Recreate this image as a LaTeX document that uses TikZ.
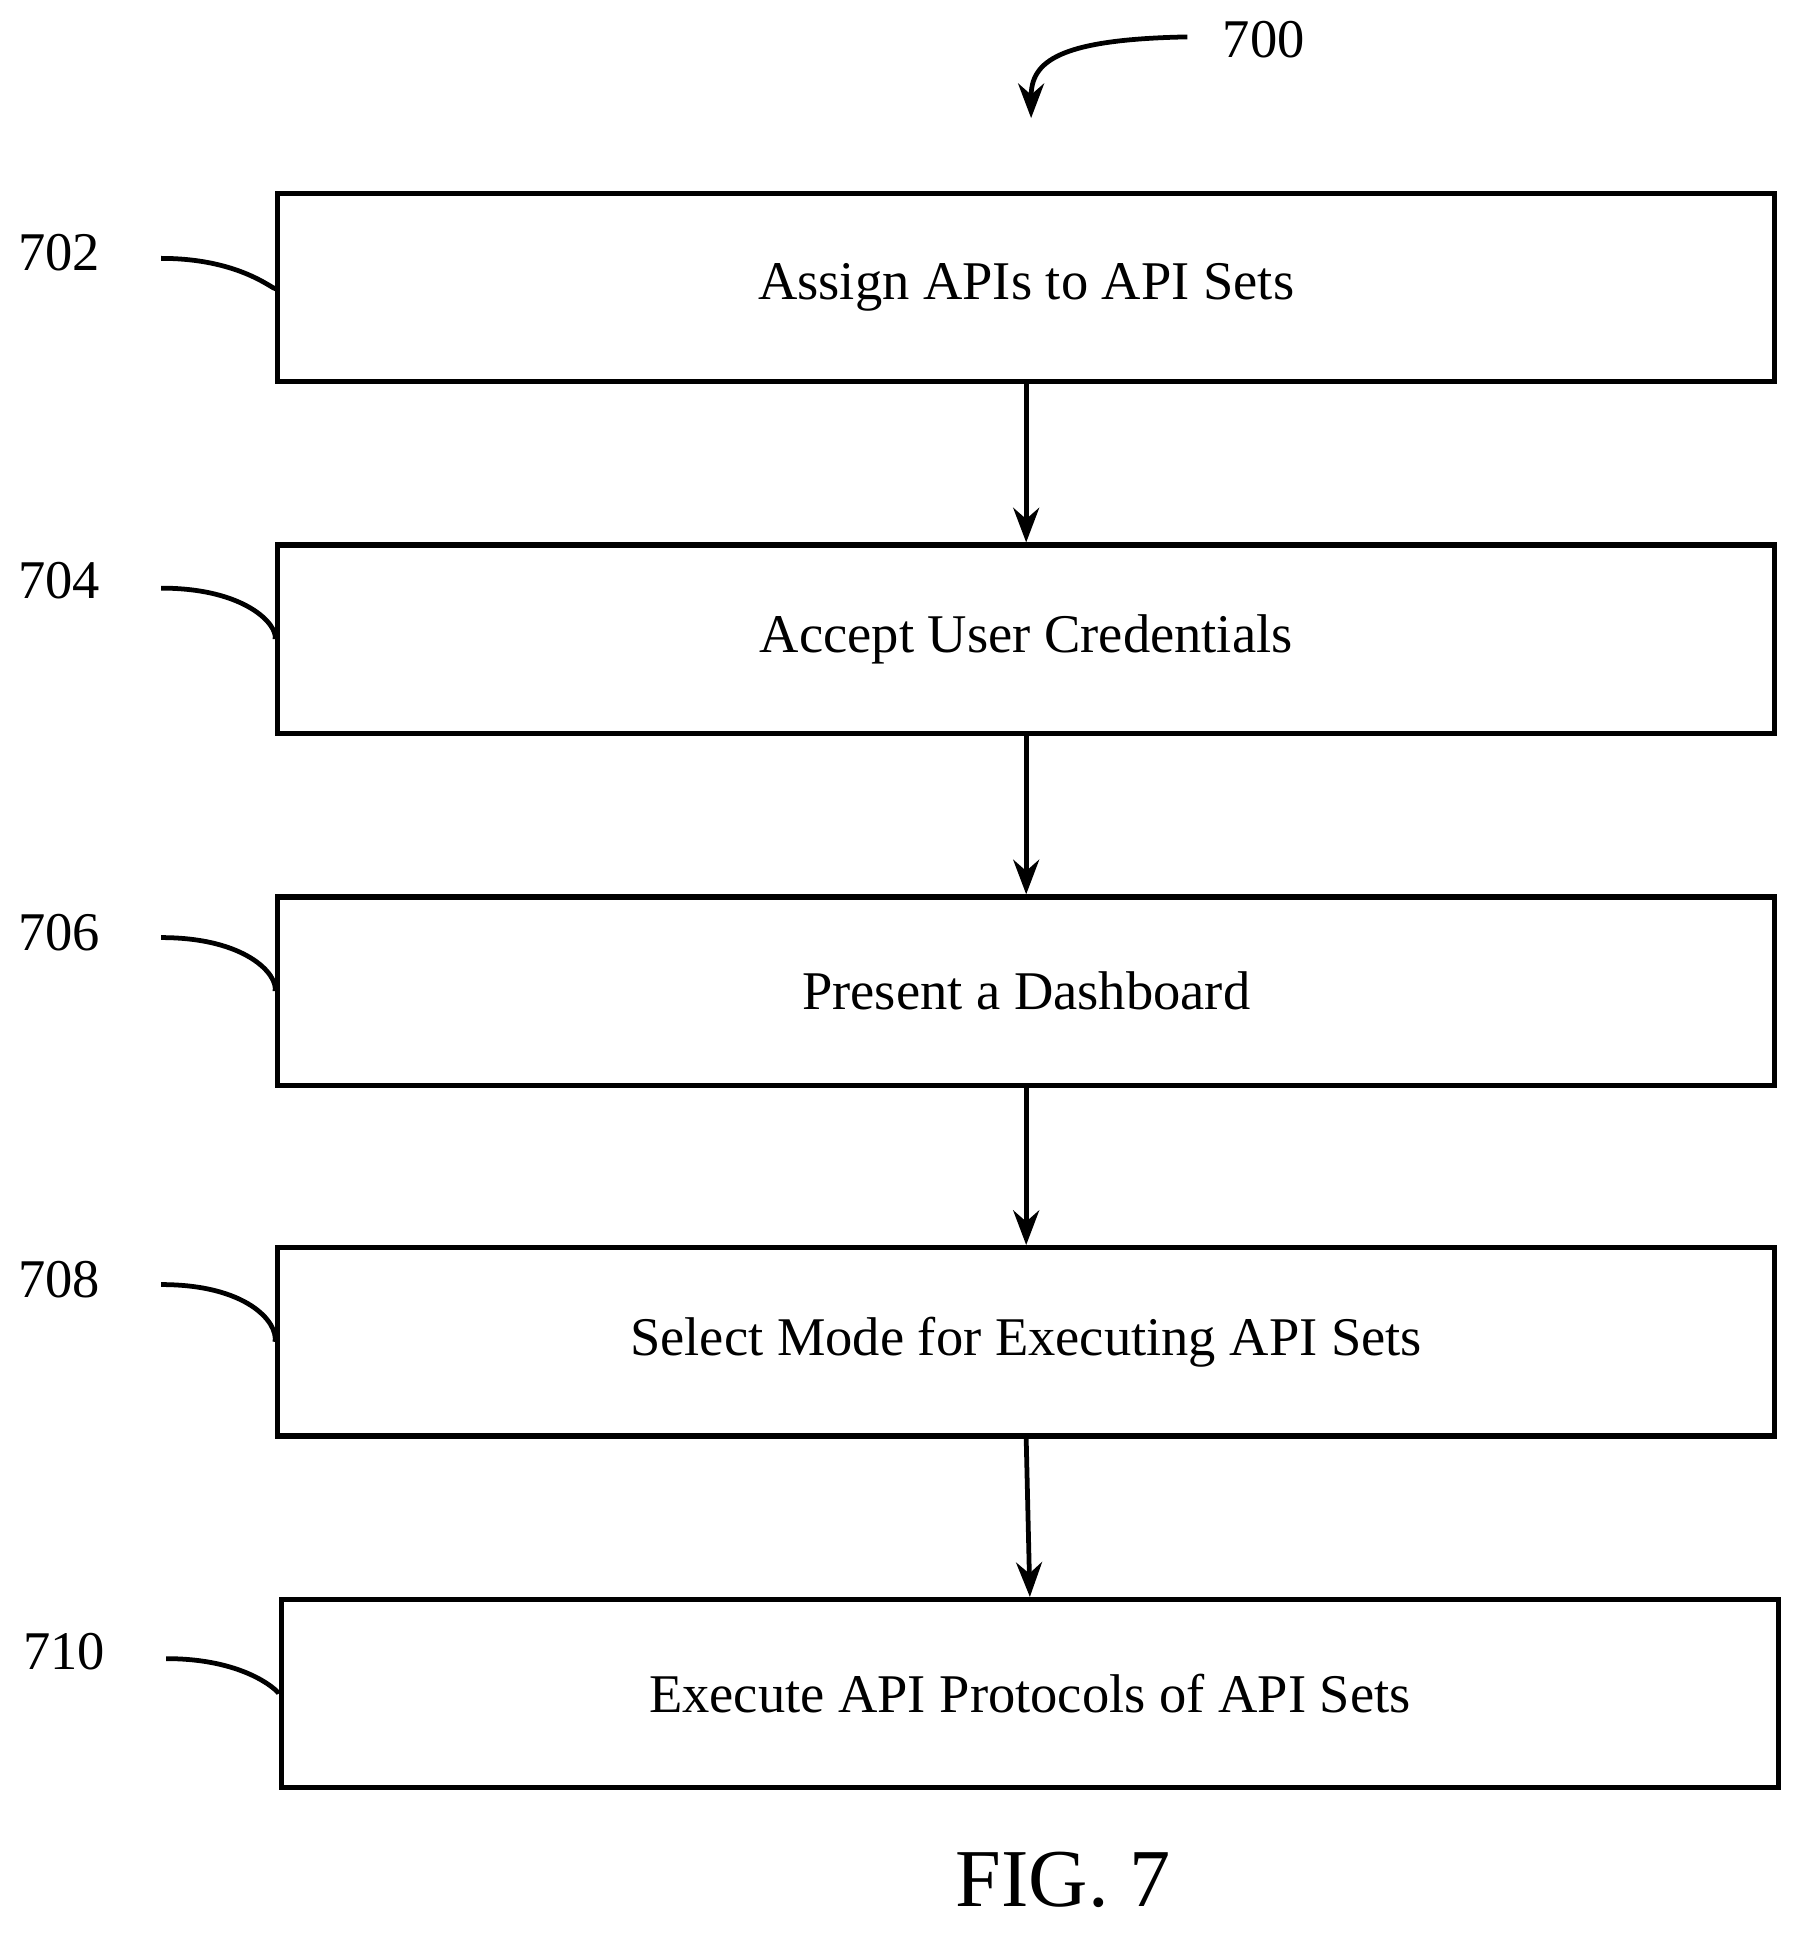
\documentclass[tikz,border=0pt]{standalone}
\usepackage{fontspec}
\setmainfont{Liberation Serif}
\usetikzlibrary{arrows.meta}
\begin{document}
\begin{tikzpicture}[x=0.01cm,y=-0.01cm]
\tikzstyle{box}=[draw,line width=1.2pt,minimum width=12.16cm,minimum height=1.53cm,inner sep=0pt,font=\fontsize{12.6}{15}\selectfont];
\tikzstyle{num}=[font=\fontsize{12.6}{15}\selectfont];
\tikzstyle{lead}=[line width=1.1pt];
\tikzstyle{dir}=[line width=1.1pt,-{Stealth[length=8pt,width=6pt]}];
\useasboundingbox (0,0) rectangle (1466,1571);
\node [box] (s1) at (834,233.5) {Assign APIs to API Sets};
\node [box] (s2) at (834,519.5) {Accept User Credentials};
\node [box] (s3) at (834,805.5) {Present a Dashboard};
\node [box] (s4) at (834,1090.5) {Select Mode for Executing API Sets};
\node [box] (s5) at (837,1376.5) {Execute API Protocols of API Sets};
\draw [dir] (s1) -- (s2);
\draw [dir] (s2) -- (s3);
\draw [dir] (s3) -- (s4);
\draw [dir] (s4.south) -- (s5.north);
\node [num] (n702) at (48,205) {702};
\node [num] (n704) at (48,472) {704};
\node [num] (n706) at (48,758) {706};
\node [num] (n708) at (48,1040) {708};
\node [num] (n710) at (52,1342) {710};
\coordinate (c702) at (131,210);
\coordinate (c704) at (131,478);
\coordinate (c706) at (131,762);
\coordinate (c708) at (131,1044);
\coordinate (c710) at (135,1348);
\draw [lead] (c702) .. controls (200,210) and (226,240) .. (s1.west);
\draw [lead] (c704) .. controls (200,478) and (226,508) .. (s2.west);
\draw [lead] (c706) .. controls (200,762) and (226,792) .. (s3.west);
\draw [lead] (c708) .. controls (200,1044) and (226,1074) .. (s4.west);
\draw [lead] (c710) .. controls (204,1348) and (229,1378) .. (s5.west);
\node [num] (n700) at (1027,32) {700};
\coordinate (c700) at (965,30);
\coordinate (t700) at (838,96);
\draw [dir] (c700) .. controls (860,32) and (838,50) .. (t700);
\node [font=\fontsize{19}{22}\selectfont] (fig) at (864,1528) {FIG. 7};
\end{tikzpicture}
\end{document}
